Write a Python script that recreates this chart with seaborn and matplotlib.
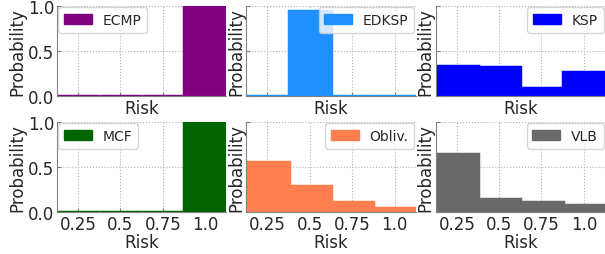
import numpy as np
import pandas as pd
import matplotlib
matplotlib.use("Agg")
import matplotlib.pyplot as plt
import seaborn as sns
from matplotlib.patches import Patch

# risk bins and per-scheme probabilities
risk = [0.25, 0.5, 0.75, 1.0]
names = ["ECMP", "EDKSP", "KSP", "MCF", "Obliv.", "VLB"]
ecmp = [0.0, 0.0, 0.0, 1.0]
edksp = [0.0, 0.95, 0.0, 0.0]
ksp = [0.33, 0.32, 0.085, 0.265]
mcf = [0.0, 0.0, 0.0, 1.0]
obliv = [0.56, 0.285, 0.11, 0.045]
vlb = [0.64, 0.147, 0.113, 0.08]
colors = ["purple", "dodgerblue", "blue", "darkgreen", "coral", "dimgray"]
legend_loc = ["upper left", "upper right", "upper right",
              "upper left", "upper right", "upper right"]

series = [ecmp, edksp, ksp, mcf, obliv, vlb]

sns.set_style("ticks", {
    "axes.grid": True,
    "grid.linestyle": ":",
    "grid.color": "#b0b0b0",
    "xtick.direction": "in",
    "ytick.direction": "in",
    "axes.edgecolor": "#808080",
})
plt.rcParams["font.family"] = ["DejaVu Sans"]

fig, axes = plt.subplots(2, 3, sharex=True, sharey=True, figsize=(6.05, 2.55), dpi=100)
fig.subplots_adjust(left=0.0942, right=1.0, bottom=0.165, top=0.9725,
                    wspace=0.118, hspace=0.29)

for i, ax in enumerate(axes.ravel()):
    df = pd.DataFrame({"Risk": risk, "Probability": series[i]})
    sns.barplot(data=df, x="Risk", y="Probability", native_scale=True, width=1,
                color=colors[i], saturation=1, edgecolor=colors[i], linewidth=2.5,
                errorbar=None, ax=ax)
    ax.set_xlim(0.125, 1.125)
    ax.set_ylim(0, 1.0)
    ax.set_xticks(risk)
    ax.set_xticklabels(["0.25", "0.5", "0.75", "1.0"])
    ax.set_yticks([0.0, 0.5, 1.0])
    ax.set_xlabel("Risk", fontsize=12, labelpad=0 if i >= 3 else 2)
    ax.set_ylabel("Probability", fontsize=12, labelpad=1)
    ax.xaxis.label.set_visible(True)
    ax.yaxis.label.set_visible(True)
    ax.tick_params(labelsize=12, length=3, color="#808080", pad=2)
    ax.set_axisbelow(True)
    for s in ["top", "right"]:
        ax.spines[s].set_visible(False)
    ax.legend(handles=[Patch(color=colors[i], label=names[i])],
              loc=legend_loc[i], fontsize=10, borderaxespad=0.1)

fig.savefig("out.png", dpi=100)
